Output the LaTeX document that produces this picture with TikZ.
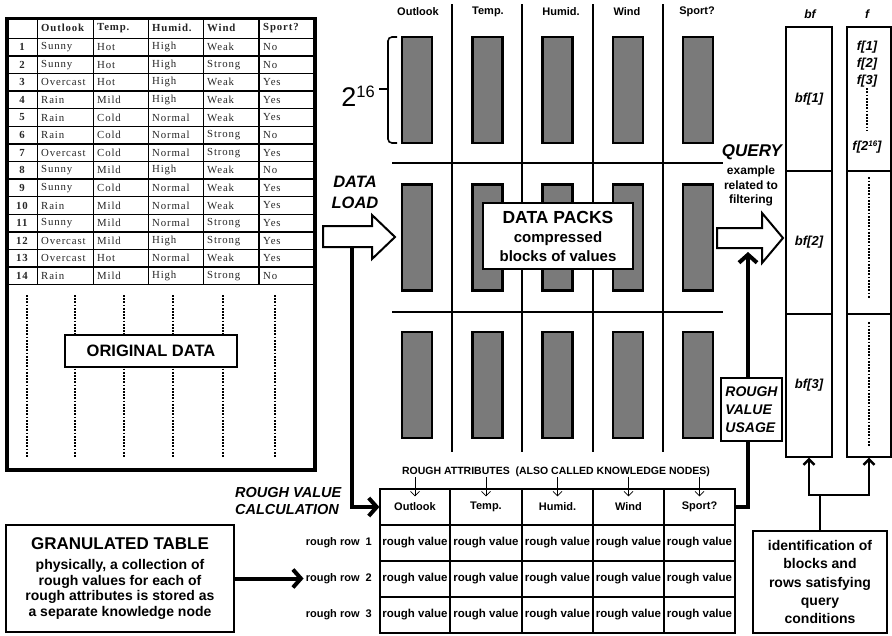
\documentclass[tikz,border=0pt]{standalone}
\usepackage{fontspec}
\setmainfont{Liberation Sans}
\newfontfamily\tabserif[LetterSpace=8]{Liberation Serif}
\usetikzlibrary{arrows.meta}
\begin{document}
\begin{tikzpicture}[x=1pt,y=-1pt,
  otab/.style={font=\tabserif\fontsize{10.8}{12}\selectfont, anchor=west, inner sep=0pt, text=black!85},
  otabb/.style={font=\tabserif\bfseries\fontsize{10.8}{12}\selectfont, anchor=west, inner sep=0pt, text=black!85},
  tabln/.style={line width=1.4pt},
  dots/.style={line width=2.6pt, dash pattern=on 1.8pt off 1.4pt},
  pack/.style={draw, line width=2.4pt, fill=black!52, minimum width=30pt, minimum height=106pt, inner sep=0pt},
  gridln/.style={line width=1.5pt},
  bigarrow/.style={draw, line width=2pt, fill=white, line join=miter},
  thickarr/.style={line width=4pt, -{Straight Barb[length=8pt,width=18pt]}},
  midarr/.style={line width=2.4pt, -{Straight Barb[length=5.5pt,width=11pt]}},
  smallarr/.style={line width=0.7pt, -{Straight Barb[length=4.5pt,width=9pt]}},
  boxw/.style={draw, line width=2.2pt, fill=white, align=center, inner sep=0pt},
  cell/.style={draw, line width=1.2pt, inner sep=0pt, minimum height=36pt, font=\bfseries\fontsize{11.5}{13}\selectfont},
  colcell/.style={draw, line width=1.3pt, inner sep=0pt, minimum width=46pt, font=\bfseries\itshape\fontsize{13}{15}\selectfont},
  lab/.style={inner sep=0pt, font=\bfseries\fontsize{11}{13}\selectfont},
  bilab/.style={inner sep=0pt, font=\bfseries\itshape\fontsize{13}{15}\selectfont}
]
\useasboundingbox (0,0) rectangle (892,635);

% ---------- original table ----------
\foreach \k in {0,...,14} \draw[tabln] (7,{38.3+17.6*\k}) -- (315,{38.3+17.6*\k});
\foreach \x in {37.3,93.3,148.3,203.3,259} \draw[tabln] (\x,18.3) -- (\x,284.7);
\foreach \x in {27,75,124,173,223,275} \draw[dots] (\x,295) -- (\x,458);
\draw[line width=3.2pt] (7,18.3) rectangle (315,470);
\foreach \t/\x [count=\j] in {Outlook/41,Temp./97,Humid./152,Wind/207,Sport?/263}
  \node[otabb] (th\j) at (\x,28.3) {\t};
\foreach \n/\a/\b/\c/\d/\e [count=\i] in {
  1/Sunny/Hot/High/Weak/No, 2/Sunny/Hot/High/Strong/No, 3/Overcast/Hot/High/Weak/Yes,
  4/Rain/Mild/High/Weak/Yes, 5/Rain/Cold/Normal/Weak/Yes, 6/Rain/Cold/Normal/Strong/No,
  7/Overcast/Cold/Normal/Strong/Yes, 8/Sunny/Mild/High/Weak/No, 9/Sunny/Cold/Normal/Weak/Yes,
  10/Rain/Mild/Normal/Weak/Yes, 11/Sunny/Mild/Normal/Strong/Yes, 12/Overcast/Mild/High/Strong/Yes,
  13/Overcast/Hot/Normal/Weak/Yes, 14/Rain/Mild/High/Strong/No}{
  \node[otabb, anchor=center] (n\i) at (22,{38.3+(\i-0.5)*17.6}) {\n};
  \node[otab] (a\i) at (41,{38.3+(\i-0.5)*17.6}) {\a};
  \node[otab] (b\i) at (97,{38.3+(\i-0.5)*17.6}) {\b};
  \node[otab] (c\i) at (152,{38.3+(\i-0.5)*17.6}) {\c};
  \node[otab] (d\i) at (207,{38.3+(\i-0.5)*17.6}) {\d};
  \node[otab] (e\i) at (263,{38.3+(\i-0.5)*17.6}) {\e};
}
\node[boxw, minimum width=172pt, minimum height=32pt, font=\bfseries\fontsize{16.5}{19}\selectfont] (orig) at (151,351) {ORIGINAL DATA};

% ---------- data pack grid ----------
\foreach \t/\x [count=\j] in {Outlook/418,Temp./488,Humid./561,Wind/627,Sport?/697}
  \node[lab] (gh\j) at (\x,12) {\t};
\foreach \x in {452,522,593,663} \draw[gridln] (\x,4) -- (\x,452);
\foreach \y in {163,312} \draw[gridln] (392,\y) -- (723,\y);
\foreach \c in {0,...,4} \foreach \r in {0,1,2}
  \node[pack] (p\c\r) at ({417+70.3*\c},{90+147.5*\r}) {};
\draw[line width=1.6pt, rounded corners=4pt] (397,37) -- (388,37) -- (388,143) -- (397,143);
\draw[line width=1.6pt] (388,89) -- (379,89);
\node[anchor=base east, inner sep=0pt, font=\fontsize{27}{28}\selectfont] (pow) at (375,106) {2\raisebox{9pt}{\fontsize{16.5}{17}\selectfont 16}};
\node[boxw, minimum width=150pt, minimum height=66pt, font=\bfseries\fontsize{15}{19}\selectfont] (dp) at (558,236)
  {{\fontsize{17.5}{19}\selectfont DATA PACKS}\\compressed\\blocks of values};

% ---------- data load ----------
\node[align=center, inner sep=0pt, font=\bfseries\itshape\fontsize{16.5}{21}\selectfont] (dl) at (355,192) {DATA\\LOAD};
\draw[bigarrow] (323,226) -- (372,226) -- (372,215) -- (395,237) -- (372,259) -- (372,247) -- (323,247) -- cycle;
\coordinate (dlfoot) at (352,247);

% ---------- query ----------
\node[inner sep=0pt, font=\bfseries\itshape\fontsize{17}{19}\selectfont] (q) at (752,152) {QUERY};
\node[align=center, inner sep=0pt, font=\bfseries\fontsize{12}{14.5}\selectfont] (qs) at (751,186) {example\\related to\\filtering};
\draw[bigarrow] (717,228) -- (762,228) -- (762,213) -- (783,238) -- (762,263) -- (762,248) -- (717,248) -- cycle;
\coordinate (qfoot) at (748,252);

% ---------- bf / f columns ----------
\node[bilab, font=\bfseries\itshape\fontsize{12}{14}\selectfont] (bfh) at (810,14) {bf};
\node[bilab, font=\bfseries\itshape\fontsize{12}{14}\selectfont] (fh) at (867,14) {f};
\node[colcell, minimum height=144pt] (bf1) at (809,99) {bf[1]};
\node[colcell, minimum height=143pt] (bf2) at (809,242.5) {bf[2]};
\node[colcell, minimum height=143pt] (bf3) at (809,385.5) {bf[3]};
\node[colcell, minimum width=44pt, minimum height=144pt] (f1) at (869,99) {};
\node[colcell, minimum width=44pt, minimum height=143pt] (f2) at (869,242.5) {};
\node[colcell, minimum width=44pt, minimum height=143pt] (f3) at (869,385.5) {};
\node[bilab] (ft1) at (867,47) {f[1]};
\node[bilab] (ft2) at (867,64) {f[2]};
\node[bilab] (ft3) at (867,81) {f[3]};
\node[bilab] (ft4) at (867,147) {f[2\raisebox{4.5pt}{\fontsize{8}{8}\selectfont 16}]};
\draw[dots] ([yshift=-1pt]ft3.south) -- (867,131);
\draw[dots] ([yshift=-7pt]f2.north) -- ([yshift=16pt]f2.south);
\draw[dots] ([yshift=-9pt]f3.north) -- ([yshift=12pt]f3.south);

% ---------- granulated table ----------
\node[lab, font=\bfseries\fontsize{10.5}{12}\selectfont] (ratt) at (556,472) {ROUGH ATTRIBUTES\ \ (ALSO CALLED KNOWLEDGE NODES)};
\foreach \t/\x/\w [count=\j] in {Outlook/415/70,Temp./486/72,Humid./557.5/71,Wind/628.5/71,Sport?/699.5/71} {
  \node[cell, minimum width=\w pt, font=\bfseries\fontsize{11}{13}\selectfont] (hc\j) at (\x,507) {\t};
  \foreach \r in {1,2,3} \node[cell, minimum width=\w pt] (rc\r\j) at (\x,{507+36*\r}) {rough value};
  \draw[smallarr] ([yshift=11pt]hc\j.north) -- ([yshift=-8pt]hc\j.north);
}
\foreach \r in {1,2,3}
  \node[lab, anchor=east, inner sep=2pt] (rl\r) at (374,{507+36*\r}) {rough row\ \ \r};
\node[align=left, anchor=west, inner sep=0pt, font=\bfseries\itshape\fontsize{14.5}{17}\selectfont] (rvc) at (235,501.5) {ROUGH VALUE\\CALCULATION};
\draw[thickarr] (dlfoot) |- (hc1.west);

\node[boxw, minimum width=228pt, minimum height=107pt, font=\bfseries\fontsize{14}{15.5}\selectfont] (gbox) at (120,578.5)
  {{\fontsize{17}{19}\selectfont GRANULATED TABLE}\\[5pt]physically, a collection of\\rough values for each of\\rough attributes is stored as\\a separate knowledge node};
\draw[thickarr] (gbox.east) -- (gbox.east -| rl2.west);

% ---------- rough value usage ----------
\draw[thickarr] (hc5.east) -| (qfoot);
\node[boxw, minimum width=61pt, minimum height=63pt, align=left, font=\bfseries\itshape\fontsize{14}{18}\selectfont] (rvu) at (751.5,409.5) {ROUGH\\VALUE\\USAGE};

% ---------- identification ----------
\node[boxw, minimum width=134pt, minimum height=102pt, font=\bfseries\fontsize{14}{18.3}\selectfont] (idb) at (820,582)
  {identification of\\blocks and\\rows satisfying\\query\\conditions};
\coordinate (junc) at (820,495);
\draw[line width=2.4pt] (idb.north) -- (junc);
\draw[midarr] (junc) -| (bf3.south);
\draw[midarr] (junc) -| (f3.south);
\end{tikzpicture}
\end{document}
